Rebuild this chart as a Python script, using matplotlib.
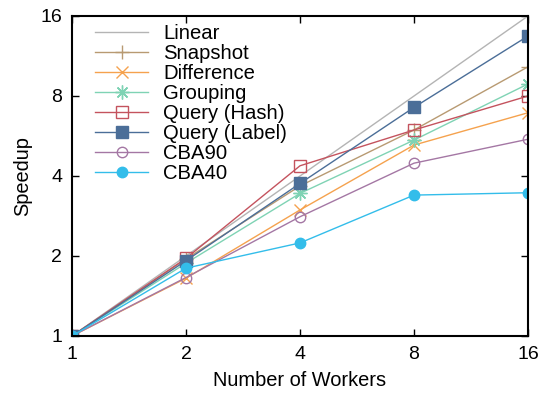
import matplotlib.pyplot as plt
from matplotlib.ticker import FixedLocator, NullLocator

plt.rcParams['font.family'] = ['Liberation Sans', 'DejaVu Sans']

workers = [1, 2, 4, 8, 16]
linear = [1, 2, 4, 8, 16]
snapshot = [1, 1.95, 3.67, 5.96, 10.3]
difference = [1, 1.65, 2.98, 5.23, 6.92]
grouping = [1, 1.88, 3.44, 5.46, 8.88]
query_hash = [1, 1.96, 4.37, 5.96, 8.0]
query_label = [1, 1.92, 3.75, 7.25, 13.45]
cba90 = [1, 1.66, 2.81, 4.47, 5.5]
cba40 = [1, 1.80, 2.24, 3.39, 3.46]

yticks = [1, 2, 4, 8, 16]

fig = plt.figure(figsize=(5.47, 3.98), dpi=100)
ax = fig.add_axes([72/547, 62/398, 456/547, 320/398])

lw = 1.0
ax.plot(workers, linear, color='#b4b4b4', lw=lw, label='Linear')
ax.plot(workers, snapshot, color='#b89a72', lw=lw, marker='+', ms=10, mew=1.0, label='Snapshot')
ax.plot(workers, difference, color='#f5a24e', lw=lw, marker='x', ms=8, mew=1.0, label='Difference')
ax.plot(workers, grouping, color='#7fd3b4', lw=lw, marker=(8, 2, 0), ms=10, mew=1.0, label='Grouping')
ax.plot(workers, query_hash, color='#c4535e', lw=lw, marker='s', ms=8.2, mfc='none', mew=1.0, label='Query (Hash)')
ax.plot(workers, query_label, color='#4b6e98', lw=lw, marker='s', ms=8.2, mew=1.0, label='Query (Label)')
ax.plot(workers, cba90, color='#a477a4', lw=lw, marker='o', ms=7.5, mfc='none', mew=1.0, label='CBA90')
ax.plot(workers, cba40, color='#33bdea', lw=lw, marker='o', ms=7.5, mew=1.0, label='CBA40')

ax.set_xscale('log', base=2)
ax.set_yscale('log', base=2)
ax.set_xlim(1, 16)
ax.set_ylim(1, 16)
ax.xaxis.set_major_locator(FixedLocator(workers))
ax.yaxis.set_major_locator(FixedLocator(yticks))
ax.xaxis.set_minor_locator(NullLocator())
ax.yaxis.set_minor_locator(NullLocator())
ax.set_xticklabels([str(v) for v in workers])
ax.set_yticklabels([str(v) for v in yticks])
ax.tick_params(direction='in', length=5, width=1, top=True, right=True,
               labelsize=14, pad=7)
for s in ax.spines.values():
    s.set_linewidth(1.5)

ax.set_xlabel('Number of Workers', fontsize=14.4, labelpad=6)
ax.set_ylabel('Speedup', fontsize=14.4, labelpad=6)

leg = ax.legend(loc='upper left', frameon=False, fontsize=14.6, handlelength=2.6,
                labelspacing=0.05, handletextpad=0.75, borderaxespad=0.0,
                bbox_to_anchor=(0.033, 1.0))

plt.savefig('out.png', dpi=100)
